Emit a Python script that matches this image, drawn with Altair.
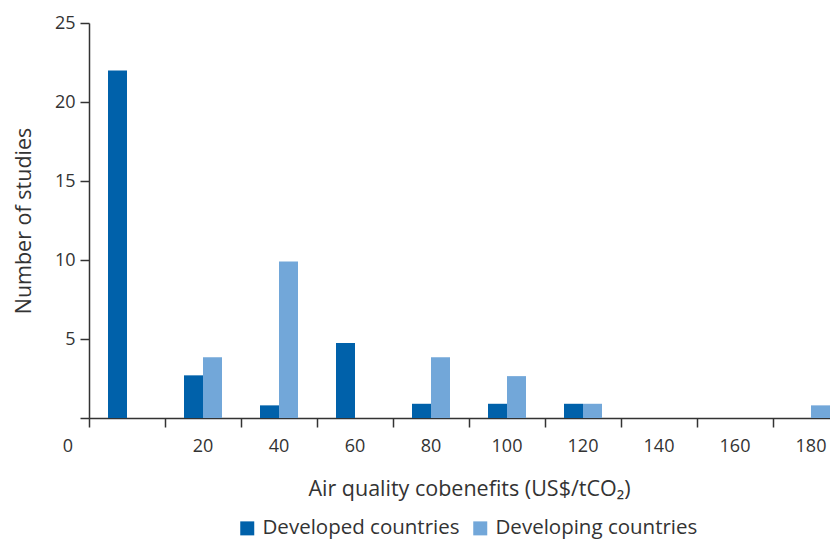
import altair as alt
import pandas as pd

categories = ["0", "20", "40", "60", "80", "100", "120", "140", "160", "180"]
developed = [22, 2.7, 0.8, 4.75, 0.9, 0.9, 0.9, 0, 0, 0]
developing = [0, 3.85, 9.9, 0, 3.85, 2.65, 0.9, 0, 0, 0.8]
series = ["Developed countries", "Developing countries"]
colors = ["#0061AA", "#72A7D9"]

rows = []
for c, a, b in zip(categories, developed, developing):
    rows.append({"bin": c, "group": series[0], "n": a})
    rows.append({"bin": c, "group": series[1], "n": b})
df = pd.DataFrame(rows)

FONT = "Open Sans"
TXT = "#333333"

chart = alt.Chart(df).mark_bar().encode(
    x=alt.X("bin:N", sort=categories,
            scale=alt.Scale(paddingInner=0.5, paddingOuter=0.25, range=[0, 760]),
            axis=alt.Axis(
                title="Air quality cobenefits (US$/tCO₂)",
                labelAngle=0,
                bandPosition=-0.5,
                tickSize=9,
                labelPadding=10,
                titlePadding=23,
                labelOffset={"condition": {"test": "datum.value === '0'", "value": -59}, "value": 0},
            )),
    xOffset=alt.XOffset("group:N", sort=series,
                        scale=alt.Scale(paddingInner=0, paddingOuter=0)),
    y=alt.Y("n:Q", scale=alt.Scale(domain=[0, 25]),
            axis=alt.Axis(title="Number of studies", values=[0, 5, 10, 15, 20, 25],
                          labelExpr="datum.value == 0 ? '' : datum.label",
                          tickSize=9, labelPadding=5, titlePadding=19, grid=False)),
    color=alt.Color("group:N", sort=series,
                    scale=alt.Scale(domain=series, range=colors),
                    legend=alt.Legend(title=None, orient="none", direction="horizontal",
                                      legendX=148, legendY=495, padding=0,
                                      symbolType="square", symbolSize=196,
                                      symbolStrokeWidth=0, columnPadding=10,
                                      labelOffset=5, labelLimit=0,
                                      labelFontSize=20.5, labelFont=FONT, labelColor=TXT)),
).properties(
    width=741, height=395,
    autosize=alt.AutoSizeParams(type="none"),
    padding={"left": 81, "top": 15, "right": 0, "bottom": 122},
).configure_view(stroke=None).configure_axis(
    domainColor="#333333", domainWidth=1.5, tickColor="#333333", tickWidth=1.5,
    labelFont=FONT, labelFontSize=18, labelColor=TXT,
    titleFont=FONT, titleFontSize=21.5, titleColor=TXT, titleFontWeight="normal",
)

chart.save("out.html", embed_options={"renderer": "svg", "actions": False})
